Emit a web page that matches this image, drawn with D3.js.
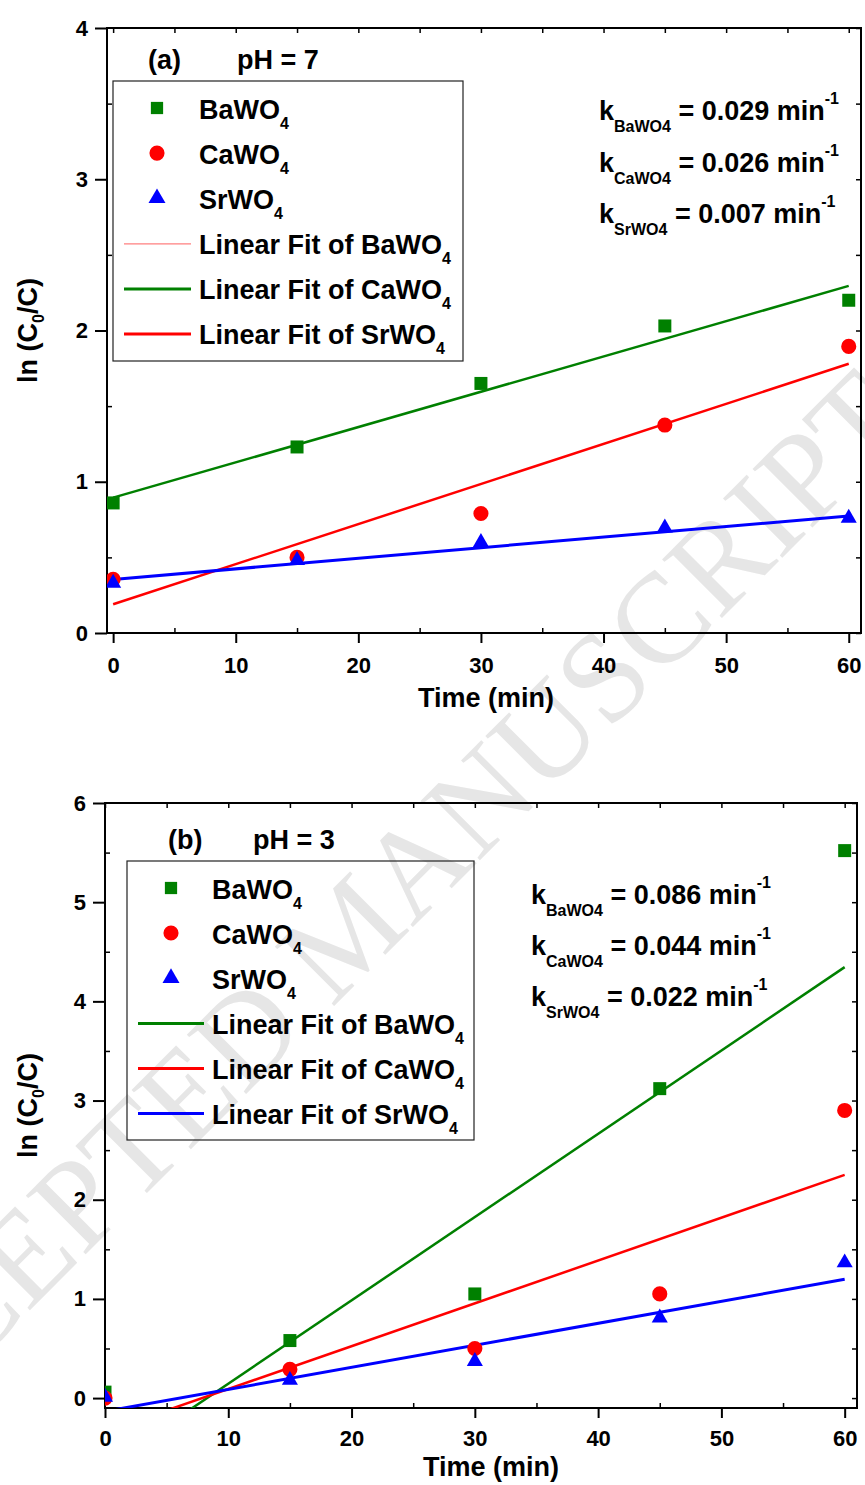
<!DOCTYPE html>
<html>
<head>
<meta charset="utf-8">
<script src="https://cdn.jsdelivr.net/npm/d3@7"></script>
<style>
  body { margin: 0; background: #fff; }
  svg { display: block; }
  text { font-family: "Liberation Sans", Arial, sans-serif; font-weight: bold; fill: #000; }
</style>
</head>
<body>
<svg id="fig" width="865" height="1485"></svg>
<script>
// ---- data ----
const timeMin = [0, 15, 30, 45, 60];

// (a) pH = 7
const baWO4_pH7 = [0.86, 1.23, 1.65, 2.03, 2.20];
const caWO4_pH7 = [0.355, 0.50, 0.79, 1.375, 1.895];
const srWO4_pH7 = [0.33, 0.48, 0.60, 0.695, 0.76];
const fitAt0_pH7 = [0.895, 0.19, 0.354];   // fit value at t = 0 (Ba, Ca, Sr)
const fitAt60_pH7 = [2.295, 1.78, 0.774];  // fit value at t = 60
const kValues_pH7 = ["0.029", "0.026", "0.007"];

// (b) pH = 3
const baWO4_pH3 = [0.06, 0.58, 1.05, 3.12, 5.52];
const caWO4_pH3 = [0.0, 0.29, 0.50, 1.05, 2.90];
const srWO4_pH3 = [0.01, 0.18, 0.37, 0.81, 1.365];
const fitAt0_pH3 = [-0.695, -0.34, -0.134];
const fitAt60_pH3 = [4.345, 2.25, 1.198];
const kValues_pH3 = ["0.086", "0.044", "0.022"];

const species = ["BaWO", "CaWO", "SrWO"];
const xTicks = [0, 10, 20, 30, 40, 50, 60];
const yTicks_pH7 = [0, 1, 2, 3, 4];
const yTicks_pH3 = [0, 1, 2, 3, 4, 5, 6];

// ---- styles ----
const GREEN = "#008000", RED = "#ff0000", BLUE = "#0000ff";
const seriesColor = [GREEN, RED, BLUE];
const seriesSymbol = [d3.symbolSquare, d3.symbolCircle, d3.symbolTriangle];
const seriesSymbolSize = [169, 180, 112];

const svg = d3.select("#fig");

// watermark behind everything
svg.append("text")
  .attr("transform", "translate(378,962) rotate(-45)")
  .attr("text-anchor", "middle")
  .style("font-family", "'Liberation Serif', 'Times New Roman', serif")
  .style("font-weight", "normal")
  .style("font-size", "128px")
  .style("fill", "#e6e6e6")
  .text("ACCEPTED MANUSCRIPT");

function subText(sel, parts) {
  // parts: [text, size, dy]
  parts.forEach(([t, size, dy]) => {
    sel.append("tspan").attr("dy", dy).style("font-size", size + "px").text(t);
  });
}

function drawPanel(cfg) {
  const x = d3.scaleLinear().domain(cfg.xDomain).range([cfg.left, cfg.right]);
  const y = d3.scaleLinear().domain(cfg.yDomain).range([cfg.bottom, cfg.top]);
  const g = svg.append("g");

  const clipId = "clip-" + cfg.id;
  g.append("clipPath").attr("id", clipId).append("rect")
    .attr("x", cfg.left).attr("y", cfg.top)
    .attr("width", cfg.right - cfg.left).attr("height", cfg.bottom - cfg.top);

  // minor tick positions
  const xMinor = d3.range(5, 61, 10);
  const xAll = d3.range(0, 61, 5);
  const yMax = cfg.yTicks[cfg.yTicks.length - 1];
  const yMinor = d3.range(0.5, yMax, 1);
  const yAll = d3.range(0, yMax + 0.01, 0.5);

  const axisFont = g2 => g2.selectAll("text").style("font-size", "22px").style("font-family", "'Liberation Sans', Arial, sans-serif").style("font-weight", "bold");
  const noDomain = g2 => g2.select(".domain").remove();

  // bottom axis
  g.append("g").attr("transform", `translate(0,${cfg.bottom})`)
    .call(d3.axisBottom(x).tickValues(xTicks).tickSizeInner(10).tickSizeOuter(0).tickPadding(cfg.xPad).tickFormat(d3.format("d")))
    .call(noDomain).call(axisFont)
    .call(g2 => g2.selectAll("line").attr("stroke-width", 2));
  g.append("g").attr("transform", `translate(0,${cfg.bottom})`)
    .call(d3.axisBottom(x).tickValues(xMinor).tickSize(-5).tickFormat(""))
    .call(noDomain).call(g2 => g2.selectAll("line").attr("stroke-width", 1.5));
  // left axis
  g.append("g").attr("transform", `translate(${cfg.left},0)`)
    .call(d3.axisLeft(y).tickValues(cfg.yTicks).tickSizeInner(12).tickSizeOuter(0).tickPadding(7).tickFormat(d3.format("d")))
    .call(noDomain).call(axisFont)
    .call(g2 => g2.selectAll("line").attr("stroke-width", 2));
  g.append("g").attr("transform", `translate(${cfg.left},0)`)
    .call(d3.axisLeft(y).tickValues(yMinor).tickSize(-5).tickFormat(""))
    .call(noDomain).call(g2 => g2.selectAll("line").attr("stroke-width", 1.5));
  // top / right mirror ticks
  g.append("g").attr("transform", `translate(0,${cfg.top})`)
    .call(d3.axisTop(x).tickValues(xAll).tickSize(-5).tickFormat(""))
    .call(noDomain).call(g2 => g2.selectAll("line").attr("stroke-width", 1.5));
  g.append("g").attr("transform", `translate(${cfg.right},0)`)
    .call(d3.axisRight(y).tickValues(yAll).tickSize(-5).tickFormat(""))
    .call(noDomain).call(g2 => g2.selectAll("line").attr("stroke-width", 1.5));

  // frame
  g.append("rect").attr("x", cfg.left).attr("y", cfg.top)
    .attr("width", cfg.right - cfg.left).attr("height", cfg.bottom - cfg.top)
    .attr("fill", "none").attr("stroke", "#000").attr("stroke-width", 2);

  // fit lines
  const plot = g.append("g").attr("clip-path", `url(#${clipId})`);
  const line = d3.line().x(d => x(d[0])).y(d => y(d[1]));
  const fitWidth = [2.5, 2.5, 3];
  cfg.fitAt0.forEach((v0, i) => {
    plot.append("path")
      .attr("d", line([[0, v0], [60, cfg.fitAt60[i]]]))
      .attr("fill", "none").attr("stroke", seriesColor[i]).attr("stroke-width", fitWidth[i]);
  });

  // markers
  cfg.series.forEach((vals, i) => {
    plot.selectAll(null).data(vals.map((v, j) => [timeMin[j], v])).enter()
      .append("path")
      .attr("transform", d => `translate(${x(d[0])},${y(d[1])})`)
      .attr("d", d3.symbol().type(seriesSymbol[i]).size(seriesSymbolSize[i]))
      .attr("fill", seriesColor[i]);
  });

  // panel tag and pH
  g.append("text").attr("x", cfg.tagX).attr("y", cfg.tagY).style("font-size", "27px").text(cfg.tag);
  g.append("text").attr("x", cfg.phX).attr("y", cfg.tagY).style("font-size", "27px").text(cfg.ph);

  // legend
  const L = cfg.legend;
  g.append("rect").attr("x", L.x0).attr("y", L.y0).attr("width", L.x1 - L.x0).attr("height", L.y1 - L.y0)
    .attr("fill", "none").attr("stroke", "#222").attr("stroke-width", 1.2);
  species.forEach((s, i) => {
    const by = L.base + i * L.step;
    g.append("path")
      .attr("transform", `translate(${L.symX},${by - 10.5})`)
      .attr("d", d3.symbol().type(seriesSymbol[i]).size(i === 2 ? 125 : (i === 0 ? 150 : 180)))
      .attr("fill", seriesColor[i]);
    const t = g.append("text").attr("x", L.textX).attr("y", by).style("font-size", "27px");
    subText(t, [[s, 27, 0], ["4", 16, 10]]);
  });
  species.forEach((s, i) => {
    const by = L.base + (i + 3) * L.step;
    g.append("line").attr("x1", L.lineX0).attr("x2", L.lineX1)
      .attr("y1", by - 10).attr("y2", by - 10)
      .attr("stroke", L.lineColor[i]).attr("stroke-width", L.lineWidth[i]);
    const t = g.append("text").attr("x", L.textX).attr("y", by).style("font-size", "27px");
    subText(t, [["Linear Fit of " + s, 27, 0], ["4", 16, 10]]);
  });

  // rate constants
  cfg.kValues.forEach((k, i) => {
    const t = g.append("text").attr("x", cfg.kX).attr("y", cfg.kBase + i * cfg.kStep).style("font-size", "27px");
    subText(t, [["k", 27, 0], [species[i] + "4", 16, 12], [" = " + k + " min", 27, -12], ["-1", 16, -16]]);
  });

  // axis titles
  g.append("text").attr("x", cfg.xTitleX).attr("y", cfg.xTitleY)
    .attr("text-anchor", "middle").style("font-size", "27px").text("Time (min)");
  const yt = g.append("text")
    .attr("transform", `translate(37,${(cfg.top + cfg.bottom) / 2}) rotate(-90)`)
    .attr("text-anchor", "middle").style("font-size", "27px");
  subText(yt, [["ln (C", 27, 0], ["0", 16, 7], ["/C)", 27, -7]]);
}

drawPanel({
  id: "a", left: 107, right: 861, top: 28, bottom: 633,
  xDomain: [-0.5, 61], yDomain: [0, 4], yTicks: yTicks_pH7, xPad: 14,
  series: [baWO4_pH7, caWO4_pH7, srWO4_pH7],
  fitAt0: fitAt0_pH7, fitAt60: fitAt60_pH7, kValues: kValues_pH7,
  tag: "(a)", ph: "pH = 7", tagX: 148, phX: 237, tagY: 69,
  legend: { x0: 113, x1: 463, y0: 81, y1: 361, base: 118.5, step: 45.1,
            symX: 157, textX: 199, lineX0: 124, lineX1: 191,
            lineColor: ["#ff7f7f", GREEN, RED], lineWidth: [1.2, 3, 3] },
  kX: 599, kBase: 120, kStep: 51.7,
  xTitleX: 486, xTitleY: 707
});

drawPanel({
  id: "b", left: 105, right: 857, top: 803, bottom: 1408,
  xDomain: [0, 61], yDomain: [-0.1, 6], yTicks: yTicks_pH3, xPad: 12,
  series: [baWO4_pH3, caWO4_pH3, srWO4_pH3],
  fitAt0: fitAt0_pH3, fitAt60: fitAt60_pH3, kValues: kValues_pH3,
  tag: "(b)", ph: "pH = 3", tagX: 168, phX: 253, tagY: 849,
  legend: { x0: 127, x1: 474, y0: 861, y1: 1140, base: 898.5, step: 45,
            symX: 171, textX: 212, lineX0: 138, lineX1: 204,
            lineColor: [GREEN, RED, BLUE], lineWidth: [3, 3, 3] },
  kX: 531, kBase: 904, kStep: 51,
  xTitleX: 491, xTitleY: 1476
});
</script>
</body>
</html>
